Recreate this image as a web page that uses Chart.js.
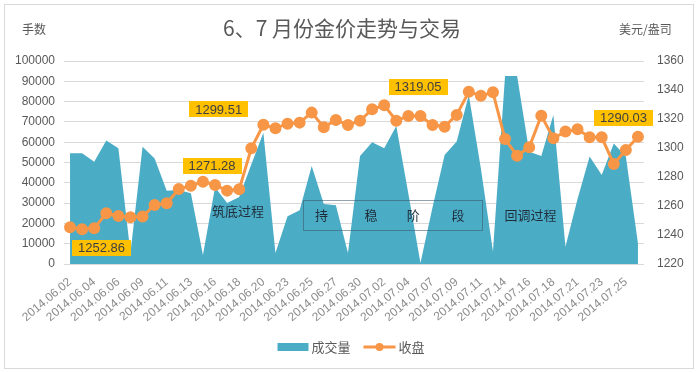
<!DOCTYPE html>
<html>
<head>
<meta charset="utf-8">
<script src="https://cdn.jsdelivr.net/npm/chart.js@4.4.1/dist/chart.umd.min.js"></script>
<style>
  html, body { margin: 0; padding: 0; background: #fff; }
  canvas { display: block; }
</style>
</head>
<body>
<canvas id="goldChart" width="698" height="373"></canvas>
<script>
// trading days (incl. saturday sessions)
const dates = [
  '2014.06.02', '2014.06.03', '2014.06.04', '2014.06.05', '2014.06.06', '2014.06.07',
  '2014.06.09', '2014.06.10', '2014.06.11', '2014.06.12', '2014.06.13', '2014.06.14',
  '2014.06.16', '2014.06.17', '2014.06.18', '2014.06.19', '2014.06.20', '2014.06.21',
  '2014.06.23', '2014.06.24', '2014.06.25', '2014.06.26', '2014.06.27', '2014.06.28',
  '2014.06.30', '2014.07.01', '2014.07.02', '2014.07.03', '2014.07.04', '2014.07.05',
  '2014.07.07', '2014.07.08', '2014.07.09', '2014.07.10', '2014.07.11', '2014.07.12',
  '2014.07.14', '2014.07.15', '2014.07.16', '2014.07.17', '2014.07.18', '2014.07.19',
  '2014.07.21', '2014.07.22', '2014.07.23', '2014.07.24', '2014.07.25', '2014.07.26'
];

// 成交量 (手数)
const volume = [
  54500, 54500, 50400, 60800, 57000, 5400,
  57800, 52000, 36100, 36500, 34800, 4400,
  37800, 30000, 33000, 49000, 64700, 5400,
  23500, 26500, 48300, 29600, 29000, 5400,
  53200, 60000, 57000, 68000, 34600, 500,
  28000, 53700, 60300, 83300, 47000, 6100,
  92600, 92600, 55300, 53200, 73400, 8500,
  32000, 52900, 43800, 59400, 52900, 10200
];

// 收盘 (美元/盎司)
const closePrice = [
  1245.3, 1243.9, 1244.6, 1255.0, 1253.1, 1252.2,
  1252.7, 1260.7, 1261.9, 1271.7, 1274.0, 1276.8,
  1274.5, 1270.6, 1271.5, 1299.8, 1316.0, 1313.6,
  1316.8, 1317.5, 1324.4, 1314.3, 1319.3, 1315.9,
  1318.8, 1326.7, 1329.5, 1318.8, 1322.1, 1322.1,
  1315.9, 1314.7, 1322.8, 1338.8, 1336.1, 1338.4,
  1306.2, 1294.7, 1300.5, 1322.3, 1306.7, 1311.3,
  1312.9, 1307.4, 1307.4, 1289.0, 1298.6, 1307.8
];

// axis ranges
const volTicks = { min: 0, max: 100000, step: 10000 };
const priceTicks = { min: 1220, max: 1360, step: 20 };

// callout boxes (category index, price)
const priceNotes = [
  { text: '1252.86', at: 2.6, price: 1231.0 },
  { text: '1271.28', at: 11.75, price: 1287.6 },
  { text: '1299.51', at: 12.3, price: 1326.6 },
  { text: '1319.05', at: 28.8, price: 1342.4 },
  { text: '1290.03', at: 45.8, price: 1320.7 }
];

const phaseNotes = [
  { text: '筑底过程', at: 13.9, price: 1256.8 },
  { text: '回调过程', at: 38.1, price: 1253.8 }
];

// 持稳阶段 box
const steadyChars = ['持', '稳', '阶', '段'];
const steadyAt = [20.8, 24.9, 28.4, 32.1];
const steadyBox = { from: 19.3, to: 34.15, top: 1264.1, bottom: 1243.4 };

const blue = '#4bacc6';
const orange = '#f79646';
const gray = '#595959';
const cjk = '"Noto Sans CJK SC", sans-serif';
const latin = '"Liberation Sans", "Noto Sans CJK SC", sans-serif';

// background, frame, titles, notes and legend
const decorPlugin = {
  id: 'decor',
  beforeDraw(chart) {
    const ctx = chart.ctx;
    ctx.save();
    ctx.fillStyle = '#fff';
    ctx.fillRect(0, 0, chart.width, chart.height);
    ctx.strokeStyle = '#d9d9d9';
    ctx.lineWidth = 1;
    ctx.strokeRect(4.5, 4.5, chart.width - 9, chart.height - 9);
    ctx.restore();
  },
  afterDraw(chart) {
    const ctx = chart.ctx;
    const x = chart.scales.x;
    const y1 = chart.scales.y1;
    ctx.save();

    // titles
    ctx.fillStyle = gray;
    ctx.textBaseline = 'middle';
    ctx.textAlign = 'center';
    ctx.font = '21px ' + cjk;
    ctx.fillText('6、7 月份金价走势与交易', 342, 28);
    ctx.font = '12px ' + cjk;
    ctx.textAlign = 'left';
    ctx.fillText('手数', 22, 29);
    ctx.fillText('美元/盎司', 619, 29);

    // steady box
    const bx1 = x.getPixelForValue(steadyBox.from);
    const bx2 = x.getPixelForValue(steadyBox.to);
    const by1 = y1.getPixelForValue(steadyBox.top);
    const by2 = y1.getPixelForValue(steadyBox.bottom);
    ctx.strokeStyle = 'rgba(60, 85, 105, 0.55)';
    ctx.lineWidth = 1;
    ctx.strokeRect(Math.round(bx1) + 0.5, Math.round(by1) + 0.5, Math.round(bx2 - bx1), Math.round(by2 - by1));

    ctx.fillStyle = '#1f2d3a';
    ctx.textAlign = 'center';
    ctx.font = '13px ' + cjk;
    steadyChars.forEach((c, i) => {
      ctx.fillText(c, x.getPixelForValue(steadyAt[i]), (by1 + by2) / 2);
    });
    phaseNotes.forEach(n => {
      ctx.fillText(n.text, x.getPixelForValue(n.at), y1.getPixelForValue(n.price));
    });

    // price callouts
    ctx.font = '13px ' + latin;
    priceNotes.forEach(n => {
      const px = x.getPixelForValue(n.at);
      const py = y1.getPixelForValue(n.price);
      const w = ctx.measureText(n.text).width + 12;
      const h = 16;
      ctx.fillStyle = '#ffc000';
      ctx.fillRect(Math.round(px - w / 2), Math.round(py - h / 2), Math.round(w), h);
      ctx.fillStyle = '#404040';
      ctx.fillText(n.text, px, py + 0.5);
    });

    // legend
    ctx.font = '13px ' + cjk;
    const t1 = chart.data.datasets[0].label;
    const t2 = chart.data.datasets[1].label;
    const w1 = ctx.measureText(t1).width;
    const w2 = ctx.measureText(t2).width;
    const total = 31 + 3 + w1 + 13 + 32 + 3 + w2;
    let lx = chart.width / 2 + 2 - total / 2;
    const ly = 347;
    ctx.fillStyle = blue;
    ctx.fillRect(lx, ly - 4, 31, 8);
    lx += 34;
    ctx.fillStyle = gray;
    ctx.textAlign = 'left';
    ctx.fillText(t1, lx, ly);
    lx += w1 + 13;
    ctx.strokeStyle = orange;
    ctx.lineWidth = 3;
    ctx.beginPath();
    ctx.moveTo(lx, ly);
    ctx.lineTo(lx + 32, ly);
    ctx.stroke();
    ctx.fillStyle = orange;
    ctx.beginPath();
    ctx.arc(lx + 16, ly, 4, 0, Math.PI * 2);
    ctx.fill();
    lx += 35;
    ctx.fillStyle = gray;
    ctx.fillText(t2, lx, ly);

    ctx.restore();
  }
};

const ctx = document.getElementById('goldChart').getContext('2d');
new Chart(ctx, {
  type: 'line',
  data: {
    labels: dates,
    datasets: [
      {
        label: '成交量',
        data: volume,
        yAxisID: 'y',
        fill: 'origin',
        backgroundColor: blue,
        borderColor: blue,
        borderWidth: 0,
        pointRadius: 0,
        tension: 0,
        order: 2
      },
      {
        label: '收盘',
        data: closePrice,
        yAxisID: 'y1',
        fill: false,
        borderColor: orange,
        backgroundColor: orange,
        borderWidth: 3,
        pointRadius: 4.5,
        pointBackgroundColor: orange,
        pointBorderColor: orange,
        tension: 0,
        order: 1
      }
    ]
  },
  options: {
    responsive: false,
    animation: false,
    devicePixelRatio: 1,
    layout: { padding: { top: 61, left: 0, right: 0, bottom: 0 } },
    plugins: {
      legend: { display: false },
      tooltip: { enabled: false }
    },
    scales: {
      x: {
        offset: true,
        grid: { display: false, drawTicks: false },
        border: { display: false },
        ticks: {
          autoSkip: false,
          minRotation: 40,
          maxRotation: 40,
          padding: 11,
          color: '#8c8c8c',
          font: { size: 12, family: latin },
          callback: function (val, i) {
            return i % 2 === 0 ? this.getLabelForValue(val) : '';
          }
        },
        afterFit: s => { s.height = 109; }
      },
      y: {
        position: 'left',
        min: volTicks.min,
        max: volTicks.max,
        grid: { color: '#d9d9d9', drawTicks: false },
        border: { display: false },
        ticks: {
          stepSize: volTicks.step,
          padding: 9,
          color: gray,
          font: { size: 12, family: latin },
          callback: v => String(v)
        },
        afterFit: s => { s.width = 64; }
      },
      y1: {
        position: 'right',
        min: priceTicks.min,
        max: priceTicks.max,
        grid: { display: false, drawTicks: false },
        border: { display: false },
        ticks: {
          stepSize: priceTicks.step,
          padding: 13,
          color: gray,
          font: { size: 12, family: latin },
          callback: v => String(v)
        },
        afterFit: s => { s.width = 54; }
      }
    }
  },
  plugins: [decorPlugin]
});
</script>
</body>
</html>
